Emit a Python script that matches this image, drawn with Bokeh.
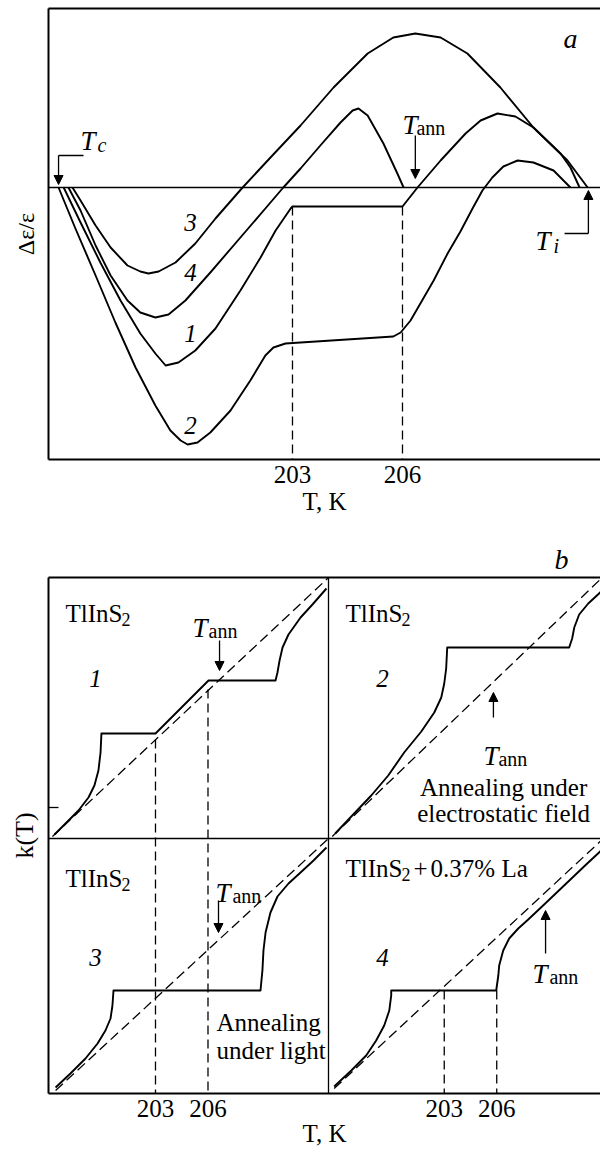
import math
from bokeh.plotting import figure
from bokeh.layouts import column
from bokeh.models import Label, Arrow, NormalHead, Span, LinearAxis, FixedTicker
from bokeh.embed import file_html
from bokeh.resources import INLINE

FONT = "Liberation Serif"

# ---------------- panel a : Δε/ε(T) ----------------
tick_T = [203, 206]
a_T_range = (196.346, 211.4)
a_y_range = (-2.72, 1.79)
a_plateau = -0.19          # level of the flat part of curve 1 between 203 and 206 K
T_c, T_i, T_ann_a = 196.62, 211.07, 206.35

a1_T = [196.76, 197.22, 197.76, 198.31, 198.85, 199.26, 199.54, 199.89, 200.35, 200.90, 201.58, 202.13, 202.54,
        202.95, 203.00, 206.00, 206.41, 207.04, 207.72, 208.13, 208.59, 209.08, 209.57, 210.31, 210.58, 210.83]
a1_y = [0, -0.35, -0.75, -1.13, -1.46, -1.66, -1.78, -1.75, -1.63, -1.41, -1.03, -0.70, -0.43,
        -0.21, -0.19, -0.19, 0, 0.27, 0.54, 0.67, 0.74, 0.71, 0.60, 0.34, 0.20, 0]
a2_T = [196.62, 197.08, 197.63, 198.17, 198.72, 199.26, 199.67, 199.95, 200.14, 200.41, 200.76, 201.31, 201.85,
        202.26, 202.48, 202.81, 203.22, 205.75, 205.95, 206.22, 206.85, 207.23, 207.58, 207.91, 208.18, 208.45,
        208.75, 209.14, 209.57, 210.12, 210.58]
a2_y = [0, -0.41, -0.88, -1.35, -1.80, -2.18, -2.43, -2.53, -2.57, -2.55, -2.45, -2.23, -1.93,
        -1.68, -1.60, -1.56, -1.55, -1.49, -1.45, -1.33, -0.93, -0.66, -0.44, -0.21, -0.03, 0.10,
        0.21, 0.27, 0.25, 0.17, 0]
a3_T = [197.00, 197.22, 197.63, 198.04, 198.50, 198.85, 199.07, 199.35, 199.81, 200.35, 200.90, 201.64, 202.40,
        203.22, 204.12, 205.05, 205.75, 206.35, 207.04, 207.77, 208.67, 209.57, 210.50, 211.05]
a3_y = [0, -0.13, -0.38, -0.60, -0.78, -0.84, -0.86, -0.84, -0.75, -0.56, -0.31, 0, 0.30,
        0.62, 1.00, 1.34, 1.50, 1.54, 1.50, 1.34, 1.00, 0.60, 0.27, 0]
a4_T = [196.89, 197.22, 197.63, 198.04, 198.50, 198.85, 199.26, 199.62, 200.08, 200.76, 201.58, 202.26, 202.75,
        203.22, 203.76, 204.31, 204.64, 204.80, 205.05, 205.48, 205.86, 206.03]
a4_y = [0, -0.23, -0.58, -0.88, -1.13, -1.25, -1.30, -1.27, -1.13, -0.85, -0.50, -0.21, 0,
        0.19, 0.42, 0.65, 0.77, 0.79, 0.72, 0.44, 0.14, 0]

# ---------------- panel b : k(T) in four quadrants ----------------
b_T_range = (196.886, 228.429)
b_k_range = (0, 5.16)
b_T_divider = 212.886     # border between the left and right quadrants
b_right_shift = 16.5      # the right-hand quadrants have their own T scale
b_top_shift = 2.55        # the upper quadrants have their own k scale
b_tick_T = [203, 206]
b_side_tick = [2.86]

b1_T = [197.23, 197.86, 198.60, 199.17, 199.51, 199.74, 199.86, 199.91, 203.00, 206.03, 209.86, 209.97, 210.09,
        210.26, 210.60, 211.29, 211.97, 212.77]
b1_k = [0.04, 0.15, 0.28, 0.41, 0.53, 0.68, 0.86, 1.05, 1.05, 1.58, 1.58, 1.66, 1.78, 1.91, 2.04, 2.21, 2.34, 2.50]
b1_ref_T, b1_ref_k = [197.11, 212.89], [0.02, 2.61]

b2_T = [196.77, 197.69, 198.83, 199.80, 200.71, 201.69, 202.43, 202.83, 203.00, 203.11, 203.17, 210.14, 210.31,
        210.43, 210.71, 211.23, 211.97]
b2_k = [0.05, 0.22, 0.43, 0.63, 0.86, 1.07, 1.26, 1.41, 1.55, 1.70, 1.91, 1.91, 2.00, 2.11, 2.24, 2.35, 2.47]
b2_ref_T, b2_ref_k = [196.60, 211.97], [0.02, 2.60]

b3_T = [197.29, 198.14, 199.00, 199.69, 200.14, 200.43, 200.54, 200.60, 209.00, 209.11, 209.17, 209.29, 209.57,
        209.97, 210.60, 211.29, 212.03, 212.77]
b3_k = [0.06, 0.20, 0.35, 0.50, 0.63, 0.75, 0.88, 1.03, 1.03, 1.23, 1.43, 1.61, 1.81, 1.97, 2.10, 2.21, 2.33, 2.46]
b3_ref_T, b3_ref_k = [197.29, 212.89], [0.03, 2.55]

b4_T = [196.71, 197.69, 198.54, 199.11, 199.57, 199.86, 199.97, 199.97, 205.97, 206.09, 206.14, 206.37, 206.71,
        207.23, 207.80, 208.83, 209.97, 211.11, 211.97]
b4_k = [0.07, 0.23, 0.38, 0.53, 0.68, 0.83, 0.98, 1.03, 1.03, 1.18, 1.28, 1.43, 1.55, 1.65, 1.74, 1.91, 2.10,
        2.29, 2.43]
b4_ref_T, b4_ref_k = [196.71, 211.97], [0.05, 2.53]

b_guide_k_left = [0.99, 1.49]   # where the 203/206 K guides leave the reference line (quadrant 1)
b_guide_k_right = [1.03, 1.03]  # same for quadrant 4


def make_fig(xr, yr, h, top, bottom):
    p = figure(width=600, height=h, x_range=xr, y_range=yr, output_backend="svg",
               toolbar_location=None, min_border_left=48, min_border_right=0,
               min_border_top=top, min_border_bottom=bottom)
    p.outline_line_color = None
    p.grid.visible = False
    p.background_fill_color = "white"
    p.border_fill_color = "white"
    bottom_ax = p.below[0]
    left_ax = p.left[0]
    for ax in (bottom_ax, left_ax):
        ax.axis_line_width = 2
        ax.axis_line_color = "black"
        ax.major_tick_in = 0
        ax.major_tick_out = 0
        ax.minor_tick_line_color = None
        ax.major_label_text_font = FONT
        ax.major_label_text_color = "black"
        ax.axis_label_text_font = FONT
        ax.axis_label_text_font_style = "normal"
        ax.axis_label_text_color = "black"
    top_ax = LinearAxis(ticker=FixedTicker(ticks=[]), axis_line_width=2, axis_line_color="black",
                        major_tick_in=0, major_tick_out=0, minor_tick_line_color=None,
                        major_label_standoff=0, major_label_text_font_size="0px")
    p.add_layout(top_ax, "above")
    return p, bottom_ax, left_ax


def lab(p, x, y, text, size=25, style="normal", align="left", baseline="alphabetic", angle=0.0):
    p.add_layout(Label(x=x, y=y, text=text, text_font=FONT, text_font_size=f"{size}px",
                       text_font_style=style, text_align=align, text_baseline=baseline,
                       angle=angle, text_color="black"))


def arrow(p, x0, y0, x1, y1):
    p.add_layout(Arrow(end=NormalHead(size=9, fill_color="black", line_color="black", line_width=1),
                       x_start=x0, y_start=y0, x_end=x1, y_end=y1, line_width=1.3, line_color="black"))


# ======== panel a ========
pa, pa_x, pa_y = make_fig(a_T_range, a_y_range, 525, 8, 66)
pa_x.ticker = FixedTicker(ticks=tick_T)
pa_x.major_label_text_font_size = "25px"
pa_x.major_label_standoff = 6
pa_x.axis_label = "T, K"
pa_x.axis_label_text_font_size = "25px"
pa_x.axis_label_standoff = 2
pa_y.ticker = FixedTicker(ticks=[])
pa_y.axis_label = "Δε/ε"
pa_y.axis_label_text_font_size = "24px"
pa_y.axis_label_standoff = 10

pa.add_layout(Span(location=0, dimension="width", line_width=1.3, line_color="black"))
pa.segment(x0=tick_T, y0=[a_plateau] * 2, x1=tick_T, y1=[a_y_range[0]] * 2,
           line_dash="9 5", line_width=1.3, color="black")
for T, y in ((a1_T, a1_y), (a2_T, a2_y), (a3_T, a3_y), (a4_T, a4_y)):
    pa.line(T, y, line_width=1.9, color="black", line_join="round")

for txt, yy in (("3", -0.35), ("4", -0.85), ("1", -1.46), ("2", -2.38)):
    lab(pa, 200.22, yy, txt, size=25, style="italic", align="center", baseline="middle")
lab(pa, 210.58, 1.49, "a", size=28, style="italic", align="center", baseline="middle")

# Tc marker
pa.segment(x0=[197.30], y0=[0.32], x1=[T_c], y1=[0.32], line_width=1.3, color="black")
arrow(pa, T_c, 0.32, T_c, 0.03)
lab(pa, 197.22, 0.47, "T", size=27, style="italic")
lab(pa, 197.68, 0.43, "c", size=20, style="italic")
# Tann marker
arrow(pa, T_ann_a, 0.52, T_ann_a, 0.09)
lab(pa, 206.00, 0.63, "T", size=27, style="italic")
lab(pa, 206.38, 0.60, "ann", size=20)
# Ti marker
pa.segment(x0=[210.42], y0=[-0.46], x1=[T_i], y1=[-0.46], line_width=1.3, color="black")
arrow(pa, T_i, -0.46, T_i, -0.03)
lab(pa, 209.63, -0.53, "T", size=27, style="italic")
lab(pa, 210.12, -0.58, "i", size=20, style="italic")

# ======== panel b ========
pb, pb_x, pb_y = make_fig(b_T_range, b_k_range, 631, 52, 63)
xt = b_tick_T + [t + b_right_shift for t in b_tick_T]
pb_x.ticker = FixedTicker(ticks=xt)
pb_x.major_label_overrides = {t + b_right_shift: str(t) for t in b_tick_T}
pb_x.major_label_text_font_size = "25px"
pb_x.major_label_standoff = 6
pb_x.axis_label = "T, K"
pb_x.axis_label_text_font_size = "25px"
pb_x.axis_label_standoff = 0
pb_y.ticker = FixedTicker(ticks=b_side_tick)
pb_y.major_tick_in = 10
pb_y.major_tick_line_width = 1.3
pb_y.major_label_text_font_size = "1px"
pb_y.major_label_text_color = None
pb_y.major_label_standoff = 0
pb_y.axis_label = "k(T)"
pb_y.axis_label_text_font_size = "26px"
pb_y.axis_label_standoff = 10

pb.title.text = "b"
pb.title.align = "right"
pb.title.offset = 32
pb.title.standoff = 6
pb.title.text_font = FONT
pb.title.text_font_style = "italic"
pb.title.text_font_size = "28px"
pb.title.text_color = "black"

pb.add_layout(Span(location=b_T_divider, dimension="height", line_width=1.3, line_color="black"))
pb.add_layout(Span(location=b_top_shift, dimension="width", line_width=1.3, line_color="black"))

quads = [
    (b1_T, b1_k, b1_ref_T, b1_ref_k, 0.0, b_top_shift),
    (b2_T, b2_k, b2_ref_T, b2_ref_k, b_right_shift, b_top_shift),
    (b3_T, b3_k, b3_ref_T, b3_ref_k, 0.0, 0.0),
    (b4_T, b4_k, b4_ref_T, b4_ref_k, b_right_shift, 0.0),
]
for T, k, rT, rk, dx, dy in quads:
    pb.line([t + dx for t in rT], [v + dy for v in rk], line_dash="10 5", line_width=1.3, color="black")
    pb.line([t + dx for t in T], [v + dy for v in k], line_width=1.9, color="black", line_join="round")

# guides at 203 and 206 K
pb.segment(x0=b_tick_T, y0=[v + b_top_shift for v in b_guide_k_left], x1=b_tick_T, y1=[0, 0],
           line_dash="9 5", line_width=1.3, color="black")
xr4 = [t + b_right_shift for t in b_tick_T]
pb.segment(x0=xr4, y0=b_guide_k_right, x1=xr4, y1=[0, 0], line_dash="9 5", line_width=1.3, color="black")

# texts
for (x0, y0) in ((197.86, 4.80), (213.86, 4.80), (197.86, 2.15)):
    lab(pb, x0, y0, "TlInS", size=25)
    lab(pb, x0 + 3.2, y0 - 0.06, "2", size=18)
lab(pb, 213.86, 2.25, "TlInS", size=25)
lab(pb, 217.06, 2.19, "2", size=18)
lab(pb, 217.75, 2.25, "+", size=25)
lab(pb, 218.72, 2.25, "0.37% La", size=25)

for txt, xx, yy in (("1", 199.57, 4.15), ("2", 215.97, 4.15), ("3", 199.57, 1.36), ("4", 215.97, 1.36)):
    lab(pb, xx, yy, txt, size=25, style="italic", align="center", baseline="middle")

for (tx, ty, ax_, ay) in ((205.11, 4.66, 206.03, 4.63), (221.74, 3.38, 222.60, 3.35),
                         (206.43, 2.01, 207.40, 1.98), (224.54, 1.20, 225.51, 1.17)):
    lab(pb, tx, ty, "T", size=27, style="italic")
    lab(pb, ax_, ay, "ann", size=20)

arrow(pb, 206.66, 4.53, 206.66, 4.23)
arrow(pb, 222.31, 3.76, 222.31, 4.01)
arrow(pb, 206.60, 1.93, 206.60, 1.61)
arrow(pb, 225.29, 1.40, 225.29, 1.83)

lab(pb, 222.89, 3.06, "Annealing under", size=25, align="center")
lab(pb, 222.89, 2.80, "electrostatic field", size=25, align="center")
lab(pb, 206.49, 0.71, "Annealing", size=25)
lab(pb, 206.49, 0.43, "under light", size=25)

layout = column(pa, pb, spacing=0)
open("out.html", "w").write(file_html(layout, INLINE))
